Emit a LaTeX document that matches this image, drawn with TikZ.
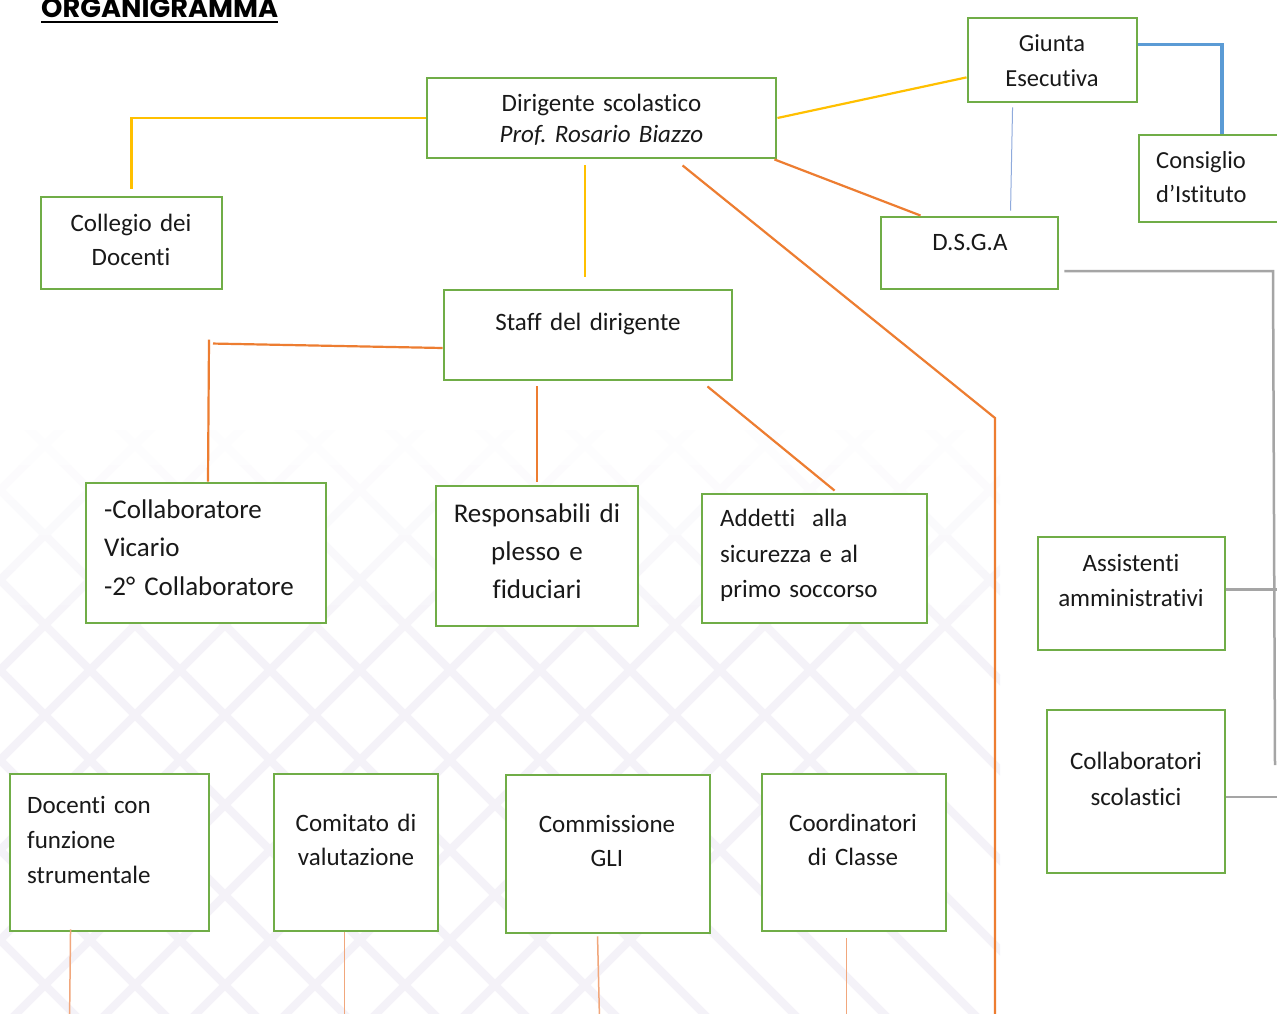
\documentclass[tikz,border=0pt]{standalone}
\usepackage{fontspec}
\setmainfont{Carlito}[Ligatures=NoCommon]
\newfontfamily\titlefont{Poppins}
\usetikzlibrary{calc}
\definecolor{boxgreen}{HTML}{70AD47}
\definecolor{linyellow}{HTML}{FFC000}
\definecolor{linorange}{HTML}{ED7D31}
\definecolor{linlight}{HTML}{F1A77C}
\definecolor{linblue}{HTML}{5B9BD5}
\definecolor{linthinblue}{HTML}{8FAADC}
\definecolor{lingray}{HTML}{A5A5A5}
\definecolor{patcol}{HTML}{F4F2F8}
\frenchspacing
\begin{document}
\begin{tikzpicture}[x=1pt,y=-1pt,
  box/.style={draw=boxgreen, line width=2.9pt, fill=white, inner sep=0pt},
  txt/.style={inner sep=0pt, font=\fontsize{25}{34}\selectfont, text=black!90},
  bigtxt/.style={inner sep=0pt, font=\fontsize{27}{38.5}\selectfont, text=black!90},
  yel/.style={draw=linyellow, line width=2.2pt},
  ora/.style={draw=linorange, line width=2.2pt},
  oral/.style={draw=linlight, line width=1.5pt},
  blu/.style={draw=linblue, line width=3.5pt},
  tblu/.style={draw=linthinblue, line width=1pt},
  gry/.style={draw=lingray, line width=2.5pt},
  patline/.style={line width=8pt}]
\useasboundingbox (0,0) rectangle (1277,1014);
\clip (0,0) rectangle (1277,1014);
\fill[white] (0,0) rectangle (1277,1014);
% faint background pattern, fading in from the top
\foreach \i in {0,...,6} {
  \pgfmathsetmacro{\ya}{430+35*\i}
  \pgfmathsetmacro{\yb}{465+35*\i}
  \pgfmathsetmacro{\pc}{int(14*(\i+1))}
  \begin{scope}
  \clip (0,\ya) rectangle (1000,\yb);
  \foreach \c in {-900,-810,...,1200} {
    \draw[patline, draw=patcol!\pc!white] (\c,400) -- ++(700,700);
    \draw[patline, draw=patcol!\pc!white] (\c,400) -- ++(-700,700);
  }
  \end{scope}
}
\begin{scope}
\clip (0,675) rectangle (1000,1014);
\foreach \c in {-900,-810,...,1200} {
  \draw[patline, draw=patcol] (\c,400) -- ++(700,700);
  \draw[patline, draw=patcol] (\c,400) -- ++(-700,700);
}
\end{scope}

% title
\node[anchor=base west, inner sep=0pt] (title) at (41,18)
  {\titlefont\bfseries\fontsize{27.2}{26}\selectfont ORGANIGRAMMA};
\draw[line width=2.5pt] ($(title.base west)+(0,4)$) -- ($(title.base east)+(0,4)$);

% boxes
\node[box, minimum width=349pt, minimum height=80pt] (dir) at (601.5,118) {};
\node[box, minimum width=169pt, minimum height=84pt] (giunta) at (1052.5,60) {};
\node[box, minimum width=166pt, minimum height=87pt] (consiglio) at (1222,178.5) {};
\node[box, minimum width=181pt, minimum height=92pt] (collegio) at (131.5,243) {};
\node[box, minimum width=177pt, minimum height=72pt] (dsga) at (969.5,253) {};
\node[box, minimum width=288pt, minimum height=90pt] (staff) at (588,335) {};
\node[box, minimum width=240pt, minimum height=140pt] (vicario) at (206,553) {};
\node[box, minimum width=202pt, minimum height=140pt] (resp) at (537,556) {};
\node[box, minimum width=225pt, minimum height=129pt] (addetti) at (814.5,558.5) {};
\node[box, minimum width=187pt, minimum height=113pt] (assist) at (1131.5,593.5) {};
\node[box, minimum width=178pt, minimum height=163pt] (collsc) at (1136,791.5) {};
\node[box, minimum width=199pt, minimum height=157pt] (docenti) at (109.5,852.5) {};
\node[box, minimum width=164pt, minimum height=157pt] (comitato) at (356,852.5) {};
\node[box, minimum width=204pt, minimum height=158pt] (commis) at (608,854) {};
\node[box, minimum width=184pt, minimum height=157pt] (coord) at (854,852.5) {};

% texts
\node[txt, font=\fontsize{25}{30.5}\selectfont, text width=330pt, align=center, anchor=base] (dirT) at (601.5,112)
  {Dirigente scolastico\\\textit{Prof. Rosario Biazzo}};
\node[txt, font=\fontsize{24.5}{35}\selectfont, text width=160pt, align=center, anchor=base] (giuntaT) at (1052,51.5)
  {Giunta\\Esecutiva};
\node[txt, font=\fontsize{24.5}{34}\selectfont, text width=140pt, align=left, anchor=base west] (consiglioT) at (1156,168.5)
  {Consiglio\\d’Istituto};
\node[txt, text width=170pt, align=center, anchor=base] (collegioT) at (131,231.5)
  {Collegio dei\\Docenti};
\node[txt, text width=170pt, align=center, anchor=base] (dsgaT) at (970,250.5) {D.S.G.A};
\node[txt, text width=280pt, align=center, anchor=base] (staffT) at (588,330.5) {Staff del dirigente};
\node[bigtxt, text width=225pt, align=left, anchor=base west] (vicarioT) at (104,518)
  {-Collaboratore\\Vicario\\-2° Collaboratore};
\node[bigtxt, font=\fontsize{27}{38}\selectfont, text width=195pt, align=center, anchor=base] (respT) at (537,522)
  {Responsabili di\\plesso e\\fiduciari};
\node[txt, font=\fontsize{25}{35.5}\selectfont, text width=200pt, align=left, anchor=base west] (addettiT) at (720,526.5)
  {Addetti\ \ alla\\sicurezza e al\\primo soccorso};
\node[txt, font=\fontsize{25}{35}\selectfont, text width=180pt, align=center, anchor=base] (assistT) at (1131,571.5)
  {Assistenti\\amministrativi};
\node[txt, font=\fontsize{25}{36}\selectfont, text width=170pt, align=center, anchor=base] (collscT) at (1136,769.5)
  {Collaboratori\\scolastici};
\node[txt, font=\fontsize{25}{35}\selectfont, text width=180pt, align=left, anchor=base west] (docentiT) at (27,813.5)
  {Docenti con\\funzione\\strumentale};
\node[txt, text width=160pt, align=center, anchor=base] (comitatoT) at (356,831.5)
  {Comitato di\\valutazione};
\node[txt, text width=195pt, align=center, anchor=base] (commisT) at (607,832.5)
  {Commissione\\GLI};
\node[txt, text width=180pt, align=center, anchor=base] (coordT) at (853,831.5)
  {Coordinatori\\di Classe};

% free-end coordinates
\coordinate (bendR) at (995,418);
\coordinate (endR) at (995,1014);
\coordinate (grayTop) at (1273,271);
\coordinate (grayBot) at (1275,765);

% yellow connectors
\draw[yel, shorten >=7pt] (dir.west) -| (collegio.north);
\draw[yel, shorten <=6pt, shorten >=12pt] (dir.south -| 585,0) -- (staff.north -| 585,0);
\draw[yel] (dir.east) -- ($(giunta.west)!0.4!(giunta.south west)$);

% blue connectors
\draw[blu] ($(giunta.north east)!0.32!(giunta.south east)$) -| (consiglio.north);
\draw[tblu] ($(giunta.south west)+(46,4)$) -- ($(dsga.north west)+(131,-5)$);

% orange connectors
\draw[ora] ($(dir.south east)+(-3,0)$) -- ($(dsga.north west)+(41,0)$);
\draw[ora] ($(dir.south west)+(257,6)$) -- (bendR) -- (endR);
\draw[ora] ($(staff.west)+(0,13)$) -- ($(vicario.north)+(7,-138)$);
\draw[ora] ($(vicario.north)+(3,-142)$) -- ($(vicario.north)+(2,0)$);
\draw[ora, shorten <=5pt, shorten >=3pt] (staff.south -| resp.north) -- (resp.north);
\draw[ora] ($(staff.south east)+(-26,5)$) -- ($(addetti.north west)+(134,-2)$);

% gray connectors
\draw[gry] ($(dsga.east)+(5,18)$) -- (grayTop) -- (grayBot);
\draw[gry] ($(assist.east)+(0,-4)$) -- ++(55,0);
\draw[gry] ($(collsc.east)+(0,5.5)$) -- ++(55,0);

% light orange lines from bottom boxes
\draw[oral] ($(docenti.south west)+(62,-3)$) -- ++(-1,90);
\draw[oral] ($(comitato.south west)+(72,0)$) -- ++(0,90);
\draw[oral] ($(commis.south west)+(93,2)$) -- ++(2,85);
\draw[oral] ($(coord.south west)+(86,6)$) -- ++(0,85);
\end{tikzpicture}
\end{document}
